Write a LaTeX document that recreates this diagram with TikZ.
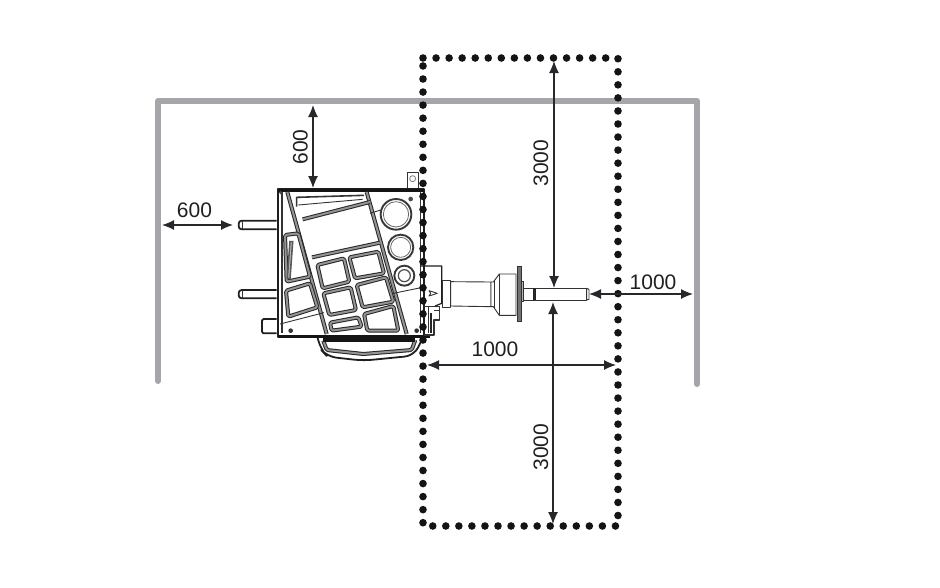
\documentclass[tikz,border=0pt]{standalone}
\usepackage{fontspec}
\setmainfont{Liberation Sans}
\usetikzlibrary{arrows.meta}
\definecolor{wallgray}{RGB}{165,165,170}
\definecolor{inkgray}{RGB}{40,40,44}
\tikzset{
  wall/.style={draw=wallgray,line width=6pt,line cap=round,line join=round},
  zone/.style={draw=black!92,line width=7.6pt,line cap=round,dash pattern=on 0pt off 13.05pt},
  dim/.style={draw=inkgray,line width=1.2pt,{Latex[length=12pt,width=10pt]}-{Latex[length=12pt,width=10pt]}},
  dimlabel/.style={font=\fontsize{21}{23}\selectfont,text=black!88,inner sep=0pt},
  outline/.style={draw=black!88,line width=1.8pt,line join=round},
  thin part/.style={draw=black!80,line width=0.9pt,line join=round},
  panel/.style={draw=black!85,line width=1pt,double=black!42,double distance=2pt,line join=round,rounded corners=1.5pt},
  heavy/.style={draw=black!92,line width=3pt},
  dial/.style={draw=black!78,line width=1.9pt,fill=white},
}
\begin{document}
\begin{tikzpicture}[x=1pt,y=-1pt]
\useasboundingbox (0,0) rectangle (940,587);
% walls
\coordinate (wallBL) at (158,381);
\coordinate (wallTL) at (158,101);
\coordinate (wallTR) at (697,101);
\coordinate (wallBR) at (697,384);
\draw[wall] (wallBL) -- (wallTL) -- (wallTR) -- (wallBR);
% machine
\begin{scope}[shift={(230,170)}]
\begin{scope}[x=0.33333pt,y=-0.33333pt]
  % pegs
  \draw[outline,fill=white,rounded corners=3pt] (140,152) -- (26,152) -- (26,178) -- (140,178);
  \draw[thin part] (38,153) -- (38,177);
  \draw[outline,fill=white,rounded corners=3pt] (140,360) -- (26,360) -- (26,385) -- (140,385);
  \draw[thin part] (38,361) -- (38,384);
  \draw[outline,fill=white,rounded corners=2pt] (140,447) -- (96,447) -- (96,490) -- (140,490);
  % tag
  \draw[thin part,fill=white] (532,55) -- (532,8) -- (566,8) -- (566,55);
  \draw[draw=black!50,line width=0.8pt] (548,26) circle[radius=9];
  % handle
  \draw[outline,fill=white,rounded corners=9pt] (262,500) -- (272,538) -- (292,560) -- (400,572) -- (552,557) -- (578,505);
  \draw[panel] (280,512) -- (290,540) -- (400,552) -- (545,540) -- (556,510);
  \draw[heavy,line width=3.4pt] (280,510) -- (556,510);
  % body
  \draw[outline,fill=white] (143,58) -- (582,58) -- (582,500) -- (143,500) -- cycle;
  \draw[heavy,line width=3.6pt] (143,61) -- (582,61);
  \draw[heavy] (143,500) -- (600,500);
  \draw[thin part,line width=1.6pt] (156,66) -- (156,488);
  \draw[thin part] (572,66) -- (572,490);
  % diagonal strips
  \draw[panel] (172,66) -- (290,492);
  \draw[panel] (410,66) -- (530,492);
  % upper panel and screen
  \draw[thin part,line width=1.6pt] (200,110) -- (200,82) -- (402,76);
  \draw[thin part] (205,105) -- (398,88);
  \draw[panel] (218,148) -- (420,96);
  \draw[panel] (246,262) -- (450,218);
  % key panels
  \draw[panel] (262,285) -- (342,265) -- (358,335) -- (278,355) -- cycle;
  \draw[panel] (358,262) -- (445,245) -- (462,310) -- (375,325) -- cycle;
  \draw[panel] (280,370) -- (362,352) -- (378,420) -- (298,435) -- cycle;
  \draw[panel] (380,345) -- (468,322) -- (490,395) -- (398,412) -- cycle;
  \draw[panel] (300,458) -- (385,442) -- (395,470) -- (305,482) -- cycle;
  \draw[panel] (402,432) -- (490,408) -- (505,482) -- (412,482) -- cycle;
  % left panels
  \draw[panel] (165,195) -- (205,190) -- (240,320) -- (170,335) -- cycle;
  \draw[draw=black!65,line width=1.6pt,fill=black!25] (180,215) -- (172,325) -- (180,325) -- (188,215) -- cycle;
  \draw[panel] (168,362) -- (240,340) -- (262,412) -- (175,440) -- cycle;
  % separators
  \draw[thin part] (150,462) -- (282,428);
  \draw[thin part] (490,370) -- (578,352);
  \draw[thin part] (420,130) -- (452,120);
  % dials
  \draw[dial] (498,133) circle[radius=46];
  \draw[draw=black!60,line width=0.8pt] (498,133) circle[radius=38];
  \draw[dial] (512,232) circle[radius=38];
  \draw[draw=black!60,line width=0.8pt] (512,232) circle[radius=30];
  \draw[dial] (523,317) circle[radius=30];
  \draw[draw=black!70,line width=1.2pt] (523,317) circle[radius=18];
  % screws
  \fill[black!80] (182,482) circle[radius=7];
  \fill[black!80] (560,482) circle[radius=7];
  \fill[black!70] (542,87) circle[radius=7];
  \fill[black!70] (152,68) circle[radius=5];
  % right-side gear
  \draw[thin part,line width=1.2pt] (582,410) -- (628,410) -- (628,450) -- (612,450) -- (612,495) -- (582,495);
  \draw[thin part] (596,412) -- (596,490);
  \draw[draw=black!85,line width=2pt] (604,430) -- (604,488);
  \draw[thin part] (612,420) -- (628,420);
\end{scope}
\end{scope}
% spindle
\begin{scope}[shift={(410,250)}]
\begin{scope}[x=0.33333pt,y=-0.33333pt]
  \draw[outline,line width=1.2pt] (30,48) -- (95,48) -- (95,160) -- (75,168);
  \draw[thin part] (57,122) -- (82,130) -- (57,138) -- (62,130) -- cycle;
  \draw[thin part,fill=white] (97,92) -- (122,92) -- (122,172) -- (97,172) -- cycle;
  \draw[thin part,fill=white] (122,95) -- (243,96) -- (243,170) -- (122,168) -- cycle;
  \draw[thin part,fill=white] (243,96) -- (250,96) -- (268,72) -- (318,72) -- (318,196) -- (268,196) -- (250,170) -- (243,170) -- cycle;
  \draw[thin part] (254,90) -- (254,178);
  \draw[thin part] (268,72) -- (268,196);
  \draw[draw=black!80,line width=1pt,fill=black!55] (322,50) -- (334,50) -- (334,215) -- (322,215) -- cycle;
  \draw[thin part,fill=black!30] (334,95) -- (340,95) -- (340,155) -- (334,155) -- cycle;
  \draw[thin part,fill=white] (340,115) -- (530,115) -- (530,150) -- (340,150) -- cycle;
  \fill[black!85] (369,115) rectangle (378,150);
  \draw[thin part,fill=white] (530,115) -- (537,118) -- (537,148) -- (530,150) -- cycle;
\end{scope}
\end{scope}
% zone
\coordinate (zoneTL) at (423,58);
\coordinate (zoneTR) at (618,58);
\coordinate (zoneBR) at (618,526);
\coordinate (zoneBL) at (423,526);
\draw[zone] (zoneTL) -- (zoneTR) -- (zoneBR) -- (zoneBL) -- cycle;
% dimension anchors
\coordinate (topwall) at (313,105);
\coordinate (bodytop) at (313,188);
\coordinate (leftwall) at (162,225);
\coordinate (peg) at (233,225);
\coordinate (zonetop) at (554,61);
\coordinate (shafttop) at (554,288);
\coordinate (zonebot) at (553,524);
\coordinate (shaftbot) at (553,302);
\coordinate (shaftend) at (589,294);
\coordinate (rightwall) at (693,294);
\coordinate (zoneleft) at (427,365);
\coordinate (zoneright) at (616,365);
\draw[dim] (topwall) -- (bodytop);
\draw[dim] (leftwall) -- (peg);
\draw[dim] (zonetop) -- (shafttop);
\draw[dim] (shaftbot) -- (zonebot);
\draw[dim] (shaftend) -- (rightwall);
\draw[dim] (zoneleft) -- (zoneright);
\node[dimlabel] (l600a) at (194.5,210) {600};
\node[dimlabel,rotate=90] (l600b) at (300.5,147) {600};
\node[dimlabel,rotate=90] (l3000a) at (541,163) {3000};
\node[dimlabel,rotate=90] (l3000b) at (541,447) {3000};
\node[dimlabel] (l1000a) at (653,282) {1000};
\node[dimlabel] (l1000b) at (495,349) {1000};
\end{tikzpicture}
\end{document}
